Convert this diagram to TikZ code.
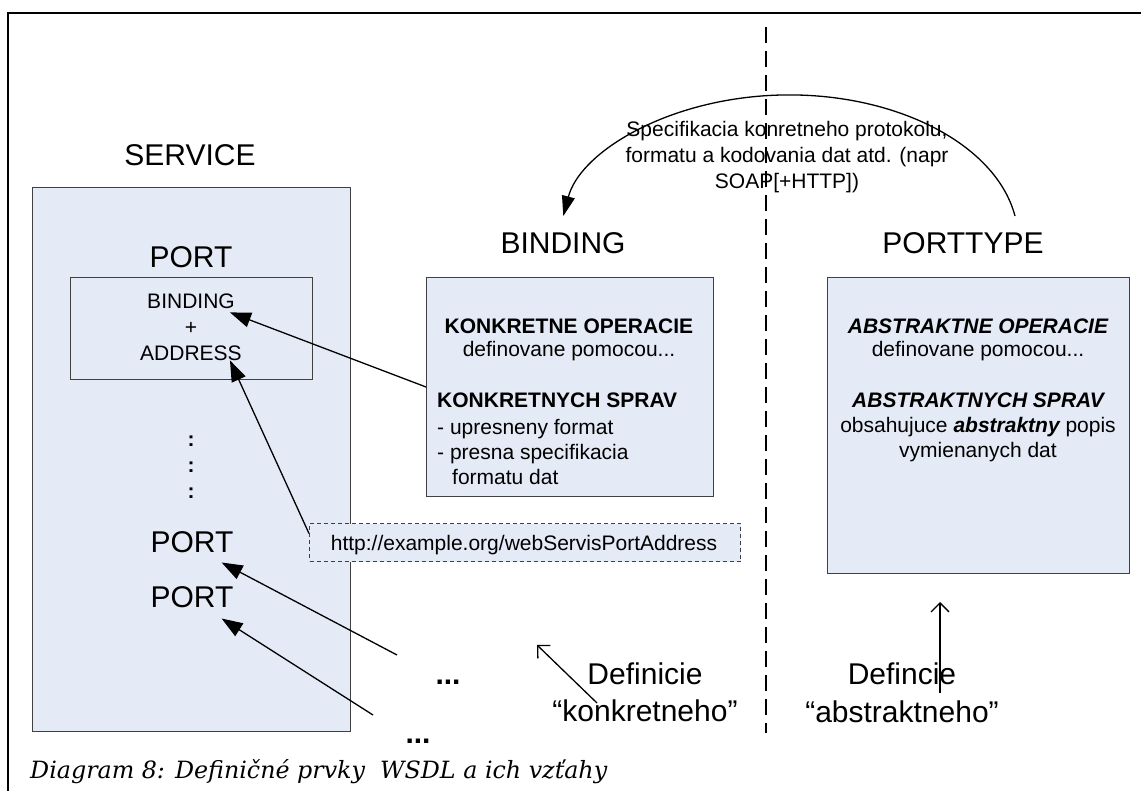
\documentclass[tikz,border=0pt]{standalone}
\usepackage{fontspec}
\setmainfont{Liberation Sans}
\newfontfamily\capfont{DejaVu Serif}
\usetikzlibrary{arrows.meta,calc}
\definecolor{boxblue}{RGB}{229,235,246}
\definecolor{edgegray}{RGB}{64,64,64}
\tikzset{
  panel/.style={draw=edgegray, fill=boxblue, line width=1pt, inner sep=0pt, anchor=north west},
  title/.style={font=\fontsize{30}{34}\selectfont, anchor=base, inner sep=0pt},
  txt/.style={font=\fontsize{21}{24}\selectfont, anchor=base, inner sep=0pt},
  txtl/.style={txt, anchor=base west},
  bigarrow/.style={-{Triangle[length=21pt,width=15pt]}, line width=1.3pt},
  thinarrow/.style={-{Straight Barb[length=9pt,width=18pt]}, line width=1.3pt},
}
\begin{document}
\begin{tikzpicture}[x=1pt,y=-1pt]
\useasboundingbox (0,0) rectangle (1141,791);
\fill[white] (0,0) rectangle (1141,791);

% outer frame (top and left edges)
\draw[line width=2pt] (8,792) -- (8,13) -- (1142,13);

% dashed separator between concrete and abstract parts
\coordinate (sepTop) at (766,27);
\coordinate (sepBot) at (766,733);
\draw[line width=1.6pt, dash pattern=on 16pt off 8pt] (sepTop) -- (sepBot);

% SERVICE
\node[title] (servTitle) at (190,166) {SERVICE};
\node[panel, minimum width=318pt, minimum height=544pt] (service) at (32,187) {};
\node[title] (port1) at (191,268) {PORT};
\node[panel, minimum width=242pt, minimum height=102pt] (portbox) at (70,277) {};
\node[txt] (pbind) at (191,309) {BINDING};
\node[txt] (pplus) at (191,335) {+};
\node[txt] (paddr) at (191,361) {ADDRESS};
\node[txt, font=\fontsize{21}{24}\selectfont\bfseries] (dot1) at (191,447) {:};
\node[txt, font=\fontsize{21}{24}\selectfont\bfseries] (dot2) at (191,472) {:};
\node[txt, font=\fontsize{21}{24}\selectfont\bfseries] (dot3) at (191,498) {:};
\node[title] (port2) at (192,552) {PORT};
\node[title] (port3) at (192,607) {PORT};

% BINDING
\node[title] (bindTitle) at (563,254) {BINDING};
\node[panel, minimum width=287pt, minimum height=219pt] (bindbox) at (426,277) {};
\node[txt] (b1) at (569,334) {\bfseries KONKRETNE OPERACIE};
\node[txt] (b2) at (569,357) {definovane pomocou...};
\node[txtl] (b3) at (437,408) {\bfseries KONKRETNYCH SPRAV};
\node[txtl] (b4) at (437,435) {- upresneny format};
\node[txtl] (b5) at (437,460) {- presna specifikacia};
\node[txtl] (b6) at (452,485) {formatu dat};

% PORTTYPE
\node[title] (ptTitle) at (963,254) {PORTTYPE};
\node[panel, minimum width=302pt, minimum height=296pt] (ptbox) at (827,277) {};
\node[txt] (t1) at (978,334) {\bfseries\itshape ABSTRAKTNE OPERACIE};
\node[txt] (t2) at (978,357) {definovane pomocou...};
\node[txt] (t3) at (978,408) {\bfseries\itshape ABSTRAKTNYCH SPRAV};
\node[txt] (t4) at (978,433) {obsahujuce {\bfseries\itshape abstraktny} popis};
\node[txt] (t5) at (978,458) {vymienanych dat};

% address box
\node[panel, draw=edgegray, dash pattern=on 4pt off 3pt, minimum width=431pt, minimum height=38pt] (urlbox) at (309,523) {};
\node[txt] (url) at (524,550) {http://example.org/webServisPortAddress};

% protocol arc from PORTTYPE to BINDING
\node[txt] (arc1) at (787,137) {Specifikacia konretneho protokolu,};
\node[txt] (arc2) at (787,163) {formatu a kodovania dat atd. (napr};
\node[txt] (arc3) at (787,189) {SOAP[+HTTP])};
\coordinate (arcR) at (1015,216);
\draw[-{Triangle[length=20pt,width=13pt]}, line width=1.3pt]
  (arcR) arc[x radius=229pt, y radius=145pt, start angle=9.5, end angle=170.5];

% lower labels
\node[title, font=\fontsize{30}{34}\selectfont\bfseries] (more1) at (448,684) {...};
\node[title, font=\fontsize{30}{34}\selectfont\bfseries] (more2) at (418,743) {...};
\node[title] (dk1) at (645,684) {Definicie};
\node[title] (dk2) at (645,721) {“konkretneho”};
\node[title] (da1) at (902,684) {Defincie};
\node[title] (da2) at (902,722) {“abstraktneho”};

% connectors into the service ports
\draw[bigarrow] (bindbox.west) -- ($(pbind.south east)+(-5,3)$);
\draw[bigarrow] ([yshift=9pt]urlbox.west) -- ($(paddr.south east)+(-12,-1)$);
\coordinate (tail3) at (397,655);
\coordinate (tail4) at (373,715);
\draw[bigarrow] (tail3) -- ($(port2.south east)+(-12,10)$);
\draw[bigarrow] (tail4) -- ($(port3.south east)+(-12,11)$);

% pointers from the definition labels
\coordinate (kTail) at (597,703);
\coordinate (kTip) at (537,645);
\draw[thinarrow] (kTail) -- (kTip);
\coordinate (aTail) at (940,693);
\coordinate (aTip) at (940,602);
\draw[thinarrow] (aTail) -- (aTip);

% caption
\node[anchor=base west, inner sep=0pt] (caption) at (30,778)
  {\resizebox{577pt}{!}{\capfont\itshape\fontsize{22}{26}\selectfont Diagram 8: Definičné prvky\ \ WSDL a ich vzťahy}};
\end{tikzpicture}
\end{document}
